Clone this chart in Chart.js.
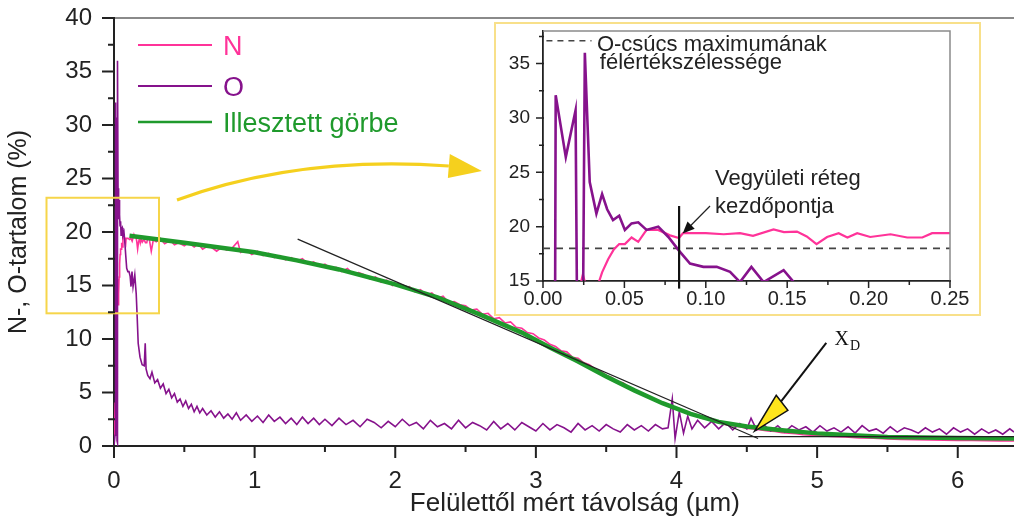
<!DOCTYPE html>
<html>
<head>
<meta charset="utf-8">
<script src="https://cdn.jsdelivr.net/npm/chart.js@4.4.0/dist/chart.umd.min.js"></script>
<style>
  body { margin: 0; background: #fff; }
  #wrap { position: relative; width: 1014px; height: 522px; overflow: hidden; }
  #inset-box { position: absolute; left: 494px; top: 22px; width: 483px; height: 290px; border: 2px solid #f8e08a; background: #fff; }
  canvas { display: block; }
</style>
</head>
<body>
<div id="wrap">
  <canvas id="main" width="1014" height="522"></canvas>
  <div id="inset-box"><canvas id="inset" width="483" height="290"></canvas></div>
</div>
<script>
// depth in µm, content in %
const oxygenDepth = [
  0, 0.0072, 0.0078, 0.014, 0.020, 0.0215, 0.024, 0.0257, 0.0287, 0.0328,
  0.0363, 0.0394, 0.043, 0.0468, 0.0503, 0.0544, 0.0585, 0.0636, 0.0708, 0.077,
  0.0835, 0.0903, 0.0985, 0.1067, 0.1149, 0.121, 0.128, 0.1355, 0.1478, 0.154,
  0.158, 0.165, 0.172, 0.185, 0.20, 0.215, 0.222, 0.228, 0.24, 0.256,
  0.27, 0.29, 0.31, 0.33, 0.35, 0.37, 0.39, 0.41, 0.43, 0.45,
  0.47, 0.49, 0.51, 0.53, 0.55, 0.57, 0.59, 0.61, 0.63, 0.66,
  0.69, 0.72, 0.75, 0.78, 0.81, 0.84, 0.87, 0.90, 0.94, 0.98,
  1.02, 1.06, 1.10, 1.14, 1.18, 1.22, 1.26, 1.30, 1.34, 1.38,
  1.42, 1.46, 1.50, 1.55, 1.60, 1.65, 1.70, 1.75, 1.80, 1.85,
  1.90, 1.95, 2.00, 2.05, 2.10, 2.15, 2.20, 2.25, 2.30, 2.35,
  2.40, 2.45, 2.50, 2.55, 2.60, 2.65, 2.70, 2.75, 2.80, 2.85,
  2.90, 2.95, 3.00, 3.05, 3.10, 3.15, 3.20, 3.25, 3.30, 3.35,
  3.40, 3.45, 3.50, 3.55, 3.60, 3.65, 3.70, 3.75, 3.80, 3.85,
  3.90, 3.94, 3.97, 3.99, 4.02, 4.05, 4.08, 4.11, 4.15, 4.20,
  4.25, 4.30, 4.35, 4.40, 4.45, 4.50, 4.53, 4.57, 4.62, 4.67,
  4.72, 4.77, 4.82, 4.87, 4.92, 4.97, 5.02, 5.07, 5.12, 5.17,
  5.22, 5.27, 5.32, 5.37, 5.42, 5.47, 5.52, 5.57, 5.62, 5.67,
  5.72, 5.77, 5.82, 5.87, 5.92, 5.97, 6.02, 6.07, 6.12, 6.17,
  6.22, 6.27, 6.32, 6.37, 6.40
];
const oxygenPct = [
  0, 1.0, 32.1, 26.4, 30.7, 0.5, 0.3, 36.0, 24.1, 21.2,
  23.0, 21.6, 20.6, 21.0, 19.7, 20.3, 20.4, 19.7, 20.0, 19.05,
  17.8, 16.6, 16.3, 16.3, 15.85, 14.9, 16.3, 14.9, 16.0, 14.9,
  14.2, 12.0, 9.6, 8.3, 7.6, 7.5, 9.6, 7.2, 6.6, 6.3,
  6.9, 5.9, 6.2, 5.4, 5.8, 4.9, 5.3, 4.5, 4.9, 4.1,
  4.4, 3.7, 4.2, 3.5, 3.9, 3.2, 3.7, 3.1, 3.5, 2.9,
  3.3, 2.7, 3.2, 2.6, 3.0, 2.5, 3.1, 2.4, 2.9, 2.3,
  2.8, 2.2, 2.9, 2.3, 2.7, 2.1, 2.6, 2.0, 2.7, 2.1,
  2.6, 2.0, 2.5, 1.9, 2.6, 2.0, 2.4, 1.8, 2.5, 2.2,
  1.7, 2.3, 1.8, 2.5, 1.9, 2.2, 1.6, 2.4, 1.8, 2.1,
  1.6, 2.4, 1.7, 2.2, 1.9, 1.5, 2.3, 1.6, 2.1, 1.5,
  2.2, 1.8, 1.4, 2.1, 1.5, 2.0, 1.7, 1.3, 2.1, 1.5,
  1.9, 1.4, 2.0, 1.6, 1.3, 2.0, 1.5, 1.9, 1.4, 2.0,
  1.6, 1.7, 4.4, 0.7, 3.2, 1.2, 2.8, 1.6, 2.4, 1.7,
  2.3, 1.6, 2.2, 1.5, 2.1, 1.6, 2.6, 1.5, 2.0, 1.4,
  1.9, 1.3, 1.9, 1.5, 1.8, 1.3, 1.9, 1.4, 1.7, 1.3,
  1.8, 1.2, 1.9, 1.4, 1.6, 1.2, 1.8, 1.3, 1.7, 1.5,
  1.2, 1.7, 1.3, 1.6, 1.1, 1.7, 1.3, 1.6, 1.1, 1.6,
  1.2, 1.5, 1.1, 1.6, 1.3
];

const nitrogenDepth = [
  0, 0.008, 0.014, 0.020, 0.0245, 0.0287, 0.0328, 0.0363, 0.040, 0.0435,
  0.0468, 0.0503, 0.0544, 0.0585, 0.0636, 0.0708, 0.078, 0.0835, 0.086, 0.100,
  0.111, 0.121, 0.129, 0.1416, 0.148, 0.156, 0.162, 0.168, 0.1745, 0.1816,
  0.187, 0.193, 0.201, 0.2135, 0.2237, 0.233, 0.239, 0.250, 0.265, 0.28,
  0.30, 0.33, 0.36, 0.40, 0.43, 0.46, 0.50, 0.53, 0.57, 0.60,
  0.63, 0.67, 0.70, 0.73, 0.77, 0.80, 0.84, 0.88, 0.90, 0.94,
  0.98, 1.02, 1.06, 1.10, 1.14, 1.18, 1.22, 1.26, 1.30, 1.34,
  1.38, 1.42, 1.46, 1.50, 1.54, 1.58, 1.62, 1.66, 1.70, 1.74,
  1.78, 1.82, 1.86, 1.90, 1.94, 1.98, 2.02, 2.06, 2.10, 2.14,
  2.18, 2.22, 2.26, 2.30, 2.34, 2.38, 2.42, 2.46, 2.50, 2.54,
  2.58, 2.62, 2.66, 2.70, 2.74, 2.78, 2.82, 2.86, 2.90, 2.94,
  2.98, 3.02, 3.06, 3.10, 3.14, 3.18, 3.22, 3.26, 3.30, 3.34,
  3.38, 3.42, 3.46, 3.50, 3.54, 3.58, 3.62, 3.66, 3.70, 3.74,
  3.78, 3.82, 3.86, 3.90, 3.94, 3.98, 4.02, 4.06, 4.10, 4.14,
  4.18, 4.22, 4.26, 4.30, 4.35, 4.40, 4.45, 4.50, 4.55, 4.60,
  4.65, 4.70, 4.75, 4.80, 4.85, 4.90, 4.95, 5.00, 5.10, 5.20,
  5.30, 5.40, 5.50, 5.60, 5.70, 5.80, 5.90, 6.00, 6.10, 6.20,
  6.30, 6.40
];
const nitrogenPct = [
  0, 4.0, 9.0, 12.8, 15.6, 13.2, 14.2, 15.8, 17.0, 17.9,
  18.4, 18.4, 19.0, 18.6, 19.7, 19.7, 19.2, 18.95, 19.4, 19.4,
  19.3, 19.4, 19.15, 19.75, 19.5, 19.55, 19.1, 18.4, 19.05, 19.4,
  19.0, 19.4, 19.05, 19.3, 19.0, 19.0, 19.4, 19.4, 18.2, 19.3,
  19.1, 19.4, 18.9, 19.2, 18.8, 19.0, 18.7, 19.0, 18.6, 18.9,
  18.4, 18.7, 18.5, 18.2, 18.6, 18.3, 18.5, 19.1, 18.1, 18.3,
  17.9, 18.2, 17.8, 18.0, 17.6, 17.8, 17.4, 17.6, 17.3, 17.5,
  17.0, 17.2, 16.8, 17.0, 16.6, 16.7, 16.3, 16.6, 16.1, 16.2,
  16.0, 15.6, 15.8, 15.3, 15.5, 15.0, 15.2, 14.8, 14.9, 14.4,
  14.6, 14.1, 14.3, 13.8, 14.0, 13.4, 13.5, 13.2, 13.1, 12.7,
  12.8, 12.3, 12.4, 11.9, 12.0, 11.5, 11.6, 11.1, 11.0, 10.6,
  10.5, 10.1, 9.9, 9.5, 9.3, 8.9, 8.8, 8.3, 8.2, 7.8,
  7.6, 7.2, 7.0, 6.6, 6.4, 6.0, 5.9, 5.5, 5.3, 5.0,
  4.8, 4.5, 4.3, 4.0, 3.9, 3.5, 3.4, 3.1, 3.0, 2.8,
  2.6, 2.5, 2.3, 2.2, 2.0, 1.9, 1.8, 1.65, 1.6, 1.5,
  1.4, 1.35, 1.25, 1.2, 1.15, 1.05, 1.0, 0.98, 0.9, 0.85,
  0.75, 0.72, 0.66, 0.62, 0.6, 0.56, 0.55, 0.52, 0.53, 0.5,
  0.48, 0.47
];

const fitDepth = [0.11, 0.5, 1.0, 1.3, 1.6, 2.0, 2.3, 2.6, 2.9, 3.1, 3.3, 3.5, 3.7, 3.9, 4.1, 4.3, 4.5, 4.75, 5.0, 5.5, 6.0, 6.4];
const fitPct = [19.64, 19.0, 18.1, 17.35, 16.5, 15.1, 13.9, 12.3, 10.6, 9.2, 7.9, 6.5, 5.2, 4.0, 3.0, 2.25, 1.82, 1.47, 1.18, 0.84, 0.74, 0.69];

const tangentDepth = [1.306, 4.58];
const tangentPct = [19.33, 0.7];
const baseDepth = [4.44, 6.4];
const basePct = [0.88, 0.88];

const halfMaxDepth = [0, 0.25];
const halfMaxPct = [18, 18];
const onsetDepth = [0.0836, 0.0836];
const onsetPct = [14.3, 21.9];

const seriesLabels = ['N', 'O', 'Illesztett görbe'];
const pink = '#ff3399', purple = '#86128c', green = '#1f9a2c';

Chart.defaults.font.family = "'Liberation Sans', Arial, sans-serif";
Chart.defaults.color = '#222';

const pts = (xs, ys) => xs.map((v, i) => ({ x: v, y: ys[i] }));
// tick marks are drawn by the plugin below; the built-in ones only keep the label gap
const gapGrid = len => ({ display: true, drawOnChartArea: false, drawTicks: true, tickLength: len, tickColor: 'rgba(0,0,0,0)' });

const tickMarks = {
  id: 'tickMarks',
  afterDraw(chart, args, o) {
    const { ctx, chartArea: a, scales: { x, y } } = chart;
    ctx.save();
    ctx.strokeStyle = '#222';
    ctx.lineWidth = o.width;
    ctx.beginPath();
    let n = Math.floor((x.max - x.min) / o.xStep + 1e-6);
    for (let i = 0; i <= n; i++) {
      const p = x.getPixelForValue(x.min + i * o.xStep);
      ctx.moveTo(p, a.bottom - 1);
      ctx.lineTo(p, a.bottom + (i % 2 === 0 ? o.major : o.minor));
    }
    n = Math.floor((y.max - y.min) / o.yStep + 1e-6);
    for (let i = 0; i <= n; i++) {
      const p = y.getPixelForValue(y.min + i * o.yStep);
      ctx.moveTo(a.left + 1, p);
      ctx.lineTo(a.left - (i % 2 === 0 ? o.major : o.minor), p);
    }
    ctx.stroke();
    ctx.restore();
  }
};

// main figure extras
const zoomBox = { x0: -0.48, x1: 0.32, y0: 12.4, y1: 23.2 };
const bigArrow = { from: [0.448, 23.0], ctrl: [1.322, 27.19], to: [2.381, 26.17],
  head: [[2.388, 27.29], [2.616, 25.7], [2.374, 25.05]] };
const xdArrow = { from: [5.065, 9.64], to: [4.733, 3.98], head: [[4.709, 4.74], [4.792, 3.34], [4.556, 1.4]] };
const xdLabel = [5.124, 9.42];

const mainDecor = {
  id: 'mainDecor',
  afterDatasetsDraw(chart) {
    const { ctx, chartArea: a, scales: { x, y } } = chart;
    const P = (p) => [x.getPixelForValue(p[0]), y.getPixelForValue(p[1])];
    ctx.save();

    ctx.strokeStyle = '#8a8a8a';
    ctx.lineWidth = 2;
    ctx.beginPath();
    ctx.moveTo(a.left, a.top); ctx.lineTo(a.right, a.top);
    ctx.stroke();

    // zoomed region
    const b0 = P([zoomBox.x0, zoomBox.y1]), b1 = P([zoomBox.x1, zoomBox.y0]);
    ctx.strokeStyle = '#f6d54a';
    ctx.lineWidth = 2;
    ctx.strokeRect(b0[0], b0[1], b1[0] - b0[0], b1[1] - b0[1]);

    // curved yellow arrow to inset
    const f = P(bigArrow.from), c = P(bigArrow.ctrl), t = P(bigArrow.to);
    ctx.strokeStyle = '#f5d01e';
    ctx.lineWidth = 3.2;
    ctx.beginPath();
    ctx.moveTo(f[0], f[1]);
    ctx.quadraticCurveTo(c[0], c[1], t[0], t[1]);
    ctx.stroke();
    ctx.fillStyle = '#f5d01e';
    ctx.beginPath();
    bigArrow.head.map(P).forEach((p, i) => i ? ctx.lineTo(p[0], p[1]) : ctx.moveTo(p[0], p[1]));
    ctx.closePath();
    ctx.fill();

    // X_D pointer
    const s = P(xdArrow.from), e = P(xdArrow.to);
    ctx.strokeStyle = '#111';
    ctx.lineWidth = 2;
    ctx.beginPath();
    ctx.moveTo(s[0], s[1]); ctx.lineTo(e[0], e[1]);
    ctx.stroke();
    ctx.fillStyle = '#ffe51c';
    ctx.lineWidth = 1.5;
    ctx.beginPath();
    xdArrow.head.map(P).forEach((p, i) => i ? ctx.lineTo(p[0], p[1]) : ctx.moveTo(p[0], p[1]));
    ctx.closePath();
    ctx.fill();
    ctx.stroke();

    const l = P(xdLabel);
    ctx.fillStyle = '#111';
    ctx.textBaseline = 'alphabetic';
    ctx.textAlign = 'left';
    ctx.font = "20px 'Liberation Serif', 'Times New Roman', serif";
    ctx.fillText('X', l[0], l[1]);
    const w = ctx.measureText('X').width;
    ctx.font = "14px 'Liberation Serif', 'Times New Roman', serif";
    ctx.fillText('D', l[0] + w + 1, l[1] + 5);

    // legend
    const items = chart.data.datasets.filter(d => seriesLabels.includes(d.label))
      .sort((p, q) => seriesLabels.indexOf(p.label) - seriesLabels.indexOf(q.label));
    const rows = [27, 68, 104];
    ctx.font = "27px 'Liberation Sans', Arial, sans-serif";
    items.forEach((d, i) => {
      const ly = a.top + rows[i];
      ctx.strokeStyle = d.borderColor;
      ctx.lineWidth = i === 2 ? 2.5 : 2;
      ctx.beginPath();
      ctx.moveTo(a.left + 24, ly); ctx.lineTo(a.left + 98, ly);
      ctx.stroke();
      ctx.fillStyle = d.borderColor;
      ctx.fillText(d.label, a.left + 109, ly + 9.5);
    });
    ctx.restore();
  }
};

new Chart(document.getElementById('main'), {
  type: 'line',
  data: {
    datasets: [
      { data: pts(tangentDepth, tangentPct), borderColor: '#222', borderWidth: 1.3, order: 0 },
      { data: pts(baseDepth, basePct), borderColor: '#222', borderWidth: 1.3, order: 0 },
      { label: seriesLabels[2], data: pts(fitDepth, fitPct), borderColor: green, borderWidth: 4.5, order: 1 },
      { label: seriesLabels[1], data: pts(oxygenDepth, oxygenPct), borderColor: purple, borderWidth: 1.6, order: 2 },
      { label: seriesLabels[0], data: pts(nitrogenDepth, nitrogenPct), borderColor: pink, borderWidth: 1.6, order: 3 }
    ]
  },
  options: {
    responsive: false,
    animation: false,
    events: [],
    elements: { point: { radius: 0 }, line: { tension: 0 } },
    layout: { padding: { top: 18, right: 0, bottom: 0, left: 0 } },
    plugins: {
      legend: { display: false },
      tooltip: { enabled: false },
      tickMarks: { width: 2, xStep: 0.5, yStep: 2.5, major: 12, minor: 6 }
    },
    scales: {
      x: {
        type: 'linear', min: 0, max: 6.4,
        afterFit: s => { s.height = 76; },
        ticks: { stepSize: 1, includeBounds: false, padding: 2, maxRotation: 0, font: { size: 24 } },
        grid: gapGrid(19),
        border: { display: true, color: '#222', width: 2 },
        title: { display: true, text: '   Felülettől mért távolság (µm)', font: { size: 26 }, padding: { top: 0, bottom: 3 } }
      },
      y: {
        min: 0, max: 40,
        afterFit: s => { s.width = 114; },
        ticks: { stepSize: 5, includeBounds: false, padding: 2, font: { size: 24, lineHeight: 1 } },
        grid: gapGrid(20),
        border: { display: true, color: '#222', width: 2 },
        title: { display: true, text: 'N-, O-tartalom (%)', font: { size: 25 }, padding: { top: 4, bottom: 0 } }
      }
    }
  },
  plugins: [tickMarks, mainDecor]
});

// inset extras
const dashSample = [[0.0021, 37.1], [0.0298, 37.1]];
const insetTexts = [
  [0.0331, 36.19, 'O-csúcs maximumának'],
  [0.0349, 34.5, 'félértékszélessége'],
  [0.1057, 23.83, 'Vegyületi réteg'],
  [0.1057, 21.23, 'kezdőpontja']
];
const onsetArrow = { from: [0.1026, 21.9], to: [0.0858, 19.36] };

const insetDecor = {
  id: 'insetDecor',
  afterDatasetsDraw(chart) {
    const { ctx, chartArea: a, scales: { x, y } } = chart;
    const P = (p) => [x.getPixelForValue(p[0]), y.getPixelForValue(p[1])];
    ctx.save();
    ctx.strokeStyle = '#8a8a8a';
    ctx.lineWidth = 1.5;
    ctx.beginPath();
    ctx.moveTo(a.left, a.top); ctx.lineTo(a.right, a.top); ctx.lineTo(a.right, a.bottom);
    ctx.stroke();

    const d0 = P(dashSample[0]), d1 = P(dashSample[1]);
    ctx.strokeStyle = '#444';
    ctx.setLineDash([6, 5]);
    ctx.beginPath();
    ctx.moveTo(d0[0], d0[1]); ctx.lineTo(d1[0], d1[1]);
    ctx.stroke();
    ctx.setLineDash([]);

    ctx.fillStyle = '#222';
    ctx.font = "22px 'Liberation Sans', Arial, sans-serif";
    ctx.textBaseline = 'alphabetic';
    insetTexts.forEach(tx => {
      const p = P(tx);
      ctx.fillText(tx[2], p[0], p[1]);
    });

    const s = P(onsetArrow.from), e = P(onsetArrow.to);
    const ang = Math.atan2(e[1] - s[1], e[0] - s[0]);
    ctx.strokeStyle = '#222';
    ctx.lineWidth = 1.2;
    ctx.beginPath();
    ctx.moveTo(s[0], s[1]);
    ctx.lineTo(e[0] - 9 * Math.cos(ang), e[1] - 9 * Math.sin(ang));
    ctx.stroke();
    ctx.fillStyle = '#111';
    ctx.beginPath();
    ctx.moveTo(e[0], e[1]);
    ctx.lineTo(e[0] - 13 * Math.cos(ang - 0.4), e[1] - 13 * Math.sin(ang - 0.4));
    ctx.lineTo(e[0] - 13 * Math.cos(ang + 0.4), e[1] - 13 * Math.sin(ang + 0.4));
    ctx.closePath();
    ctx.fill();
    ctx.restore();
  }
};

new Chart(document.getElementById('inset'), {
  type: 'line',
  data: {
    datasets: [
      { data: pts(onsetDepth, onsetPct), borderColor: '#111', borderWidth: 2.2, clip: false, order: 0 },
      { data: pts(oxygenDepth, oxygenPct), borderColor: purple, borderWidth: 2.6, order: 1 },
      { data: pts(nitrogenDepth, nitrogenPct), borderColor: pink, borderWidth: 2.2, order: 2 },
      { data: pts(halfMaxDepth, halfMaxPct), borderColor: '#444', borderWidth: 1.6, borderDash: [7, 6], order: 3 }
    ]
  },
  options: {
    responsive: false,
    animation: false,
    events: [],
    elements: { point: { radius: 0 }, line: { tension: 0 } },
    layout: { padding: { top: 7, right: 29, bottom: 0, left: 0 } },
    plugins: {
      legend: { display: false },
      tooltip: { enabled: false },
      tickMarks: { width: 1.5, xStep: 0.025, yStep: 2.5, major: 7, minor: 4 }
    },
    scales: {
      x: {
        type: 'linear', min: 0, max: 0.25,
        afterFit: s => { s.height = 33; },
        ticks: { stepSize: 0.05, includeBounds: false, padding: 1, maxRotation: 0, font: { size: 20 },
          callback: v => v.toFixed(2) },
        grid: gapGrid(5),
        border: { display: true, color: '#222', width: 1.8 }
      },
      y: {
        min: 15, max: 38,
        afterFit: s => { s.width = 47; },
        ticks: { stepSize: 5, includeBounds: false, padding: 1, font: { size: 19, lineHeight: 0.6 } },
        grid: gapGrid(12),
        border: { display: true, color: '#222', width: 1.8 }
      }
    }
  },
  plugins: [tickMarks, insetDecor]
});
</script>
</body>
</html>
